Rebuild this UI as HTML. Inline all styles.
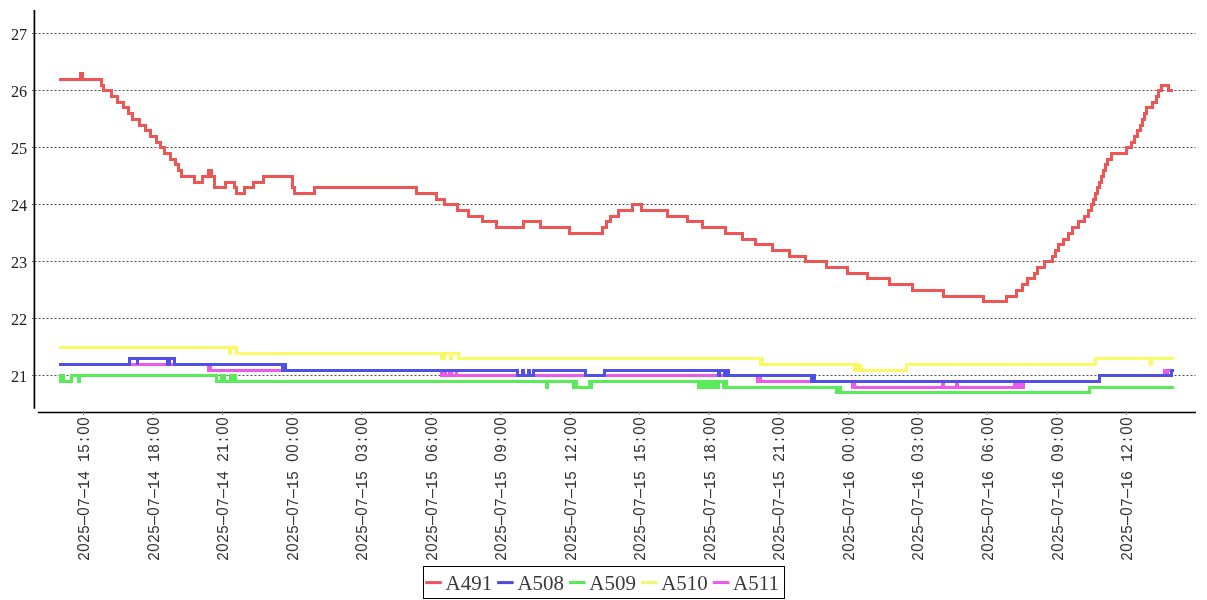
<!DOCTYPE html><html><head><meta charset="utf-8"><style>html,body{margin:0;padding:0;background:#fff;width:1207px;height:600px;overflow:hidden}svg{display:block;will-change:transform}</style></head><body>
<svg width="1207" height="600" viewBox="0 0 1207 600">
<line x1="34.5" y1="375.5" x2="1195.5" y2="375.5" stroke="#555" stroke-width="1" stroke-dasharray="2 2"/>
<line x1="32" y1="375.5" x2="34" y2="375.5" stroke="#777" stroke-width="1"/>
<text x="27.2" y="381.7" text-anchor="end" font-family="Liberation Serif" font-size="16" textLength="16.3" lengthAdjust="spacingAndGlyphs" fill="#222">21</text>
<line x1="34.5" y1="318.5" x2="1195.5" y2="318.5" stroke="#555" stroke-width="1" stroke-dasharray="2 2"/>
<line x1="32" y1="318.5" x2="34" y2="318.5" stroke="#777" stroke-width="1"/>
<text x="27.2" y="324.7" text-anchor="end" font-family="Liberation Serif" font-size="16" textLength="16.3" lengthAdjust="spacingAndGlyphs" fill="#222">22</text>
<line x1="34.5" y1="261.5" x2="1195.5" y2="261.5" stroke="#555" stroke-width="1" stroke-dasharray="2 2"/>
<line x1="32" y1="261.5" x2="34" y2="261.5" stroke="#777" stroke-width="1"/>
<text x="27.2" y="267.7" text-anchor="end" font-family="Liberation Serif" font-size="16" textLength="16.3" lengthAdjust="spacingAndGlyphs" fill="#222">23</text>
<line x1="34.5" y1="204.5" x2="1195.5" y2="204.5" stroke="#555" stroke-width="1" stroke-dasharray="2 2"/>
<line x1="32" y1="204.5" x2="34" y2="204.5" stroke="#777" stroke-width="1"/>
<text x="27.2" y="210.7" text-anchor="end" font-family="Liberation Serif" font-size="16" textLength="16.3" lengthAdjust="spacingAndGlyphs" fill="#222">24</text>
<line x1="34.5" y1="147.5" x2="1195.5" y2="147.5" stroke="#555" stroke-width="1" stroke-dasharray="2 2"/>
<line x1="32" y1="147.5" x2="34" y2="147.5" stroke="#777" stroke-width="1"/>
<text x="27.2" y="153.7" text-anchor="end" font-family="Liberation Serif" font-size="16" textLength="16.3" lengthAdjust="spacingAndGlyphs" fill="#222">25</text>
<line x1="34.5" y1="90.5" x2="1195.5" y2="90.5" stroke="#555" stroke-width="1" stroke-dasharray="2 2"/>
<line x1="32" y1="90.5" x2="34" y2="90.5" stroke="#777" stroke-width="1"/>
<text x="27.2" y="96.7" text-anchor="end" font-family="Liberation Serif" font-size="16" textLength="16.3" lengthAdjust="spacingAndGlyphs" fill="#222">26</text>
<line x1="34.5" y1="33.5" x2="1195.5" y2="33.5" stroke="#555" stroke-width="1" stroke-dasharray="2 2"/>
<line x1="32" y1="33.5" x2="34" y2="33.5" stroke="#777" stroke-width="1"/>
<text x="27.2" y="39.7" text-anchor="end" font-family="Liberation Serif" font-size="16" textLength="16.3" lengthAdjust="spacingAndGlyphs" fill="#222">27</text>
<line x1="34.4" y1="10" x2="34.4" y2="408.7" stroke="#000" stroke-width="1.7"/>
<line x1="37.8" y1="412.5" x2="1196" y2="412.5" stroke="#000" stroke-width="1.7"/>
<line x1="83.5" y1="411" x2="83.5" y2="415" stroke="#888" stroke-width="1"/>
<g transform="translate(89.1,417) rotate(-90) scale(1,1.04)" font-size="15" fill="#333" text-anchor="middle"><text x="-139.50" font-family="Liberation Mono">2</text><text x="-130.50" font-family="Liberation Sans">0</text><text x="-121.50" font-family="Liberation Mono">2</text><text x="-112.50" font-family="Liberation Mono">5</text><text x="-103.50" font-family="Liberation Mono">&#8212;</text><text x="-94.50" font-family="Liberation Sans">0</text><text x="-85.50" font-family="Liberation Mono">7</text><text x="-76.50" font-family="Liberation Mono">&#8212;</text><text x="-67.50" font-family="Liberation Mono">1</text><text x="-58.50" font-family="Liberation Mono">4</text><text x="-40.50" font-family="Liberation Mono">1</text><text x="-31.50" font-family="Liberation Mono">5</text><text x="-22.50" font-family="Liberation Mono">:</text><text x="-13.50" font-family="Liberation Sans">0</text><text x="-4.50" font-family="Liberation Sans">0</text></g>
<line x1="153.03" y1="411" x2="153.03" y2="415" stroke="#888" stroke-width="1"/>
<g transform="translate(158.63,417) rotate(-90) scale(1,1.04)" font-size="15" fill="#333" text-anchor="middle"><text x="-139.50" font-family="Liberation Mono">2</text><text x="-130.50" font-family="Liberation Sans">0</text><text x="-121.50" font-family="Liberation Mono">2</text><text x="-112.50" font-family="Liberation Mono">5</text><text x="-103.50" font-family="Liberation Mono">&#8212;</text><text x="-94.50" font-family="Liberation Sans">0</text><text x="-85.50" font-family="Liberation Mono">7</text><text x="-76.50" font-family="Liberation Mono">&#8212;</text><text x="-67.50" font-family="Liberation Mono">1</text><text x="-58.50" font-family="Liberation Mono">4</text><text x="-40.50" font-family="Liberation Mono">1</text><text x="-31.50" font-family="Liberation Mono">8</text><text x="-22.50" font-family="Liberation Mono">:</text><text x="-13.50" font-family="Liberation Sans">0</text><text x="-4.50" font-family="Liberation Sans">0</text></g>
<line x1="222.56" y1="411" x2="222.56" y2="415" stroke="#888" stroke-width="1"/>
<g transform="translate(228.16,417) rotate(-90) scale(1,1.04)" font-size="15" fill="#333" text-anchor="middle"><text x="-139.50" font-family="Liberation Mono">2</text><text x="-130.50" font-family="Liberation Sans">0</text><text x="-121.50" font-family="Liberation Mono">2</text><text x="-112.50" font-family="Liberation Mono">5</text><text x="-103.50" font-family="Liberation Mono">&#8212;</text><text x="-94.50" font-family="Liberation Sans">0</text><text x="-85.50" font-family="Liberation Mono">7</text><text x="-76.50" font-family="Liberation Mono">&#8212;</text><text x="-67.50" font-family="Liberation Mono">1</text><text x="-58.50" font-family="Liberation Mono">4</text><text x="-40.50" font-family="Liberation Mono">2</text><text x="-31.50" font-family="Liberation Mono">1</text><text x="-22.50" font-family="Liberation Mono">:</text><text x="-13.50" font-family="Liberation Sans">0</text><text x="-4.50" font-family="Liberation Sans">0</text></g>
<line x1="292.09000000000003" y1="411" x2="292.09000000000003" y2="415" stroke="#888" stroke-width="1"/>
<g transform="translate(297.69000000000005,417) rotate(-90) scale(1,1.04)" font-size="15" fill="#333" text-anchor="middle"><text x="-139.50" font-family="Liberation Mono">2</text><text x="-130.50" font-family="Liberation Sans">0</text><text x="-121.50" font-family="Liberation Mono">2</text><text x="-112.50" font-family="Liberation Mono">5</text><text x="-103.50" font-family="Liberation Mono">&#8212;</text><text x="-94.50" font-family="Liberation Sans">0</text><text x="-85.50" font-family="Liberation Mono">7</text><text x="-76.50" font-family="Liberation Mono">&#8212;</text><text x="-67.50" font-family="Liberation Mono">1</text><text x="-58.50" font-family="Liberation Mono">5</text><text x="-40.50" font-family="Liberation Sans">0</text><text x="-31.50" font-family="Liberation Sans">0</text><text x="-22.50" font-family="Liberation Mono">:</text><text x="-13.50" font-family="Liberation Sans">0</text><text x="-4.50" font-family="Liberation Sans">0</text></g>
<line x1="361.62" y1="411" x2="361.62" y2="415" stroke="#888" stroke-width="1"/>
<g transform="translate(367.22,417) rotate(-90) scale(1,1.04)" font-size="15" fill="#333" text-anchor="middle"><text x="-139.50" font-family="Liberation Mono">2</text><text x="-130.50" font-family="Liberation Sans">0</text><text x="-121.50" font-family="Liberation Mono">2</text><text x="-112.50" font-family="Liberation Mono">5</text><text x="-103.50" font-family="Liberation Mono">&#8212;</text><text x="-94.50" font-family="Liberation Sans">0</text><text x="-85.50" font-family="Liberation Mono">7</text><text x="-76.50" font-family="Liberation Mono">&#8212;</text><text x="-67.50" font-family="Liberation Mono">1</text><text x="-58.50" font-family="Liberation Mono">5</text><text x="-40.50" font-family="Liberation Sans">0</text><text x="-31.50" font-family="Liberation Mono">3</text><text x="-22.50" font-family="Liberation Mono">:</text><text x="-13.50" font-family="Liberation Sans">0</text><text x="-4.50" font-family="Liberation Sans">0</text></g>
<line x1="431.15" y1="411" x2="431.15" y2="415" stroke="#888" stroke-width="1"/>
<g transform="translate(436.75,417) rotate(-90) scale(1,1.04)" font-size="15" fill="#333" text-anchor="middle"><text x="-139.50" font-family="Liberation Mono">2</text><text x="-130.50" font-family="Liberation Sans">0</text><text x="-121.50" font-family="Liberation Mono">2</text><text x="-112.50" font-family="Liberation Mono">5</text><text x="-103.50" font-family="Liberation Mono">&#8212;</text><text x="-94.50" font-family="Liberation Sans">0</text><text x="-85.50" font-family="Liberation Mono">7</text><text x="-76.50" font-family="Liberation Mono">&#8212;</text><text x="-67.50" font-family="Liberation Mono">1</text><text x="-58.50" font-family="Liberation Mono">5</text><text x="-40.50" font-family="Liberation Sans">0</text><text x="-31.50" font-family="Liberation Mono">6</text><text x="-22.50" font-family="Liberation Mono">:</text><text x="-13.50" font-family="Liberation Sans">0</text><text x="-4.50" font-family="Liberation Sans">0</text></g>
<line x1="500.68" y1="411" x2="500.68" y2="415" stroke="#888" stroke-width="1"/>
<g transform="translate(506.28000000000003,417) rotate(-90) scale(1,1.04)" font-size="15" fill="#333" text-anchor="middle"><text x="-139.50" font-family="Liberation Mono">2</text><text x="-130.50" font-family="Liberation Sans">0</text><text x="-121.50" font-family="Liberation Mono">2</text><text x="-112.50" font-family="Liberation Mono">5</text><text x="-103.50" font-family="Liberation Mono">&#8212;</text><text x="-94.50" font-family="Liberation Sans">0</text><text x="-85.50" font-family="Liberation Mono">7</text><text x="-76.50" font-family="Liberation Mono">&#8212;</text><text x="-67.50" font-family="Liberation Mono">1</text><text x="-58.50" font-family="Liberation Mono">5</text><text x="-40.50" font-family="Liberation Sans">0</text><text x="-31.50" font-family="Liberation Mono">9</text><text x="-22.50" font-family="Liberation Mono">:</text><text x="-13.50" font-family="Liberation Sans">0</text><text x="-4.50" font-family="Liberation Sans">0</text></g>
<line x1="570.21" y1="411" x2="570.21" y2="415" stroke="#888" stroke-width="1"/>
<g transform="translate(575.8100000000001,417) rotate(-90) scale(1,1.04)" font-size="15" fill="#333" text-anchor="middle"><text x="-139.50" font-family="Liberation Mono">2</text><text x="-130.50" font-family="Liberation Sans">0</text><text x="-121.50" font-family="Liberation Mono">2</text><text x="-112.50" font-family="Liberation Mono">5</text><text x="-103.50" font-family="Liberation Mono">&#8212;</text><text x="-94.50" font-family="Liberation Sans">0</text><text x="-85.50" font-family="Liberation Mono">7</text><text x="-76.50" font-family="Liberation Mono">&#8212;</text><text x="-67.50" font-family="Liberation Mono">1</text><text x="-58.50" font-family="Liberation Mono">5</text><text x="-40.50" font-family="Liberation Mono">1</text><text x="-31.50" font-family="Liberation Mono">2</text><text x="-22.50" font-family="Liberation Mono">:</text><text x="-13.50" font-family="Liberation Sans">0</text><text x="-4.50" font-family="Liberation Sans">0</text></g>
<line x1="639.74" y1="411" x2="639.74" y2="415" stroke="#888" stroke-width="1"/>
<g transform="translate(645.34,417) rotate(-90) scale(1,1.04)" font-size="15" fill="#333" text-anchor="middle"><text x="-139.50" font-family="Liberation Mono">2</text><text x="-130.50" font-family="Liberation Sans">0</text><text x="-121.50" font-family="Liberation Mono">2</text><text x="-112.50" font-family="Liberation Mono">5</text><text x="-103.50" font-family="Liberation Mono">&#8212;</text><text x="-94.50" font-family="Liberation Sans">0</text><text x="-85.50" font-family="Liberation Mono">7</text><text x="-76.50" font-family="Liberation Mono">&#8212;</text><text x="-67.50" font-family="Liberation Mono">1</text><text x="-58.50" font-family="Liberation Mono">5</text><text x="-40.50" font-family="Liberation Mono">1</text><text x="-31.50" font-family="Liberation Mono">5</text><text x="-22.50" font-family="Liberation Mono">:</text><text x="-13.50" font-family="Liberation Sans">0</text><text x="-4.50" font-family="Liberation Sans">0</text></g>
<line x1="709.27" y1="411" x2="709.27" y2="415" stroke="#888" stroke-width="1"/>
<g transform="translate(714.87,417) rotate(-90) scale(1,1.04)" font-size="15" fill="#333" text-anchor="middle"><text x="-139.50" font-family="Liberation Mono">2</text><text x="-130.50" font-family="Liberation Sans">0</text><text x="-121.50" font-family="Liberation Mono">2</text><text x="-112.50" font-family="Liberation Mono">5</text><text x="-103.50" font-family="Liberation Mono">&#8212;</text><text x="-94.50" font-family="Liberation Sans">0</text><text x="-85.50" font-family="Liberation Mono">7</text><text x="-76.50" font-family="Liberation Mono">&#8212;</text><text x="-67.50" font-family="Liberation Mono">1</text><text x="-58.50" font-family="Liberation Mono">5</text><text x="-40.50" font-family="Liberation Mono">1</text><text x="-31.50" font-family="Liberation Mono">8</text><text x="-22.50" font-family="Liberation Mono">:</text><text x="-13.50" font-family="Liberation Sans">0</text><text x="-4.50" font-family="Liberation Sans">0</text></g>
<line x1="778.8" y1="411" x2="778.8" y2="415" stroke="#888" stroke-width="1"/>
<g transform="translate(784.4,417) rotate(-90) scale(1,1.04)" font-size="15" fill="#333" text-anchor="middle"><text x="-139.50" font-family="Liberation Mono">2</text><text x="-130.50" font-family="Liberation Sans">0</text><text x="-121.50" font-family="Liberation Mono">2</text><text x="-112.50" font-family="Liberation Mono">5</text><text x="-103.50" font-family="Liberation Mono">&#8212;</text><text x="-94.50" font-family="Liberation Sans">0</text><text x="-85.50" font-family="Liberation Mono">7</text><text x="-76.50" font-family="Liberation Mono">&#8212;</text><text x="-67.50" font-family="Liberation Mono">1</text><text x="-58.50" font-family="Liberation Mono">5</text><text x="-40.50" font-family="Liberation Mono">2</text><text x="-31.50" font-family="Liberation Mono">1</text><text x="-22.50" font-family="Liberation Mono">:</text><text x="-13.50" font-family="Liberation Sans">0</text><text x="-4.50" font-family="Liberation Sans">0</text></g>
<line x1="848.3299999999999" y1="411" x2="848.3299999999999" y2="415" stroke="#888" stroke-width="1"/>
<g transform="translate(853.93,417) rotate(-90) scale(1,1.04)" font-size="15" fill="#333" text-anchor="middle"><text x="-139.50" font-family="Liberation Mono">2</text><text x="-130.50" font-family="Liberation Sans">0</text><text x="-121.50" font-family="Liberation Mono">2</text><text x="-112.50" font-family="Liberation Mono">5</text><text x="-103.50" font-family="Liberation Mono">&#8212;</text><text x="-94.50" font-family="Liberation Sans">0</text><text x="-85.50" font-family="Liberation Mono">7</text><text x="-76.50" font-family="Liberation Mono">&#8212;</text><text x="-67.50" font-family="Liberation Mono">1</text><text x="-58.50" font-family="Liberation Mono">6</text><text x="-40.50" font-family="Liberation Sans">0</text><text x="-31.50" font-family="Liberation Sans">0</text><text x="-22.50" font-family="Liberation Mono">:</text><text x="-13.50" font-family="Liberation Sans">0</text><text x="-4.50" font-family="Liberation Sans">0</text></g>
<line x1="917.86" y1="411" x2="917.86" y2="415" stroke="#888" stroke-width="1"/>
<g transform="translate(923.46,417) rotate(-90) scale(1,1.04)" font-size="15" fill="#333" text-anchor="middle"><text x="-139.50" font-family="Liberation Mono">2</text><text x="-130.50" font-family="Liberation Sans">0</text><text x="-121.50" font-family="Liberation Mono">2</text><text x="-112.50" font-family="Liberation Mono">5</text><text x="-103.50" font-family="Liberation Mono">&#8212;</text><text x="-94.50" font-family="Liberation Sans">0</text><text x="-85.50" font-family="Liberation Mono">7</text><text x="-76.50" font-family="Liberation Mono">&#8212;</text><text x="-67.50" font-family="Liberation Mono">1</text><text x="-58.50" font-family="Liberation Mono">6</text><text x="-40.50" font-family="Liberation Sans">0</text><text x="-31.50" font-family="Liberation Mono">3</text><text x="-22.50" font-family="Liberation Mono">:</text><text x="-13.50" font-family="Liberation Sans">0</text><text x="-4.50" font-family="Liberation Sans">0</text></g>
<line x1="987.39" y1="411" x2="987.39" y2="415" stroke="#888" stroke-width="1"/>
<g transform="translate(992.99,417) rotate(-90) scale(1,1.04)" font-size="15" fill="#333" text-anchor="middle"><text x="-139.50" font-family="Liberation Mono">2</text><text x="-130.50" font-family="Liberation Sans">0</text><text x="-121.50" font-family="Liberation Mono">2</text><text x="-112.50" font-family="Liberation Mono">5</text><text x="-103.50" font-family="Liberation Mono">&#8212;</text><text x="-94.50" font-family="Liberation Sans">0</text><text x="-85.50" font-family="Liberation Mono">7</text><text x="-76.50" font-family="Liberation Mono">&#8212;</text><text x="-67.50" font-family="Liberation Mono">1</text><text x="-58.50" font-family="Liberation Mono">6</text><text x="-40.50" font-family="Liberation Sans">0</text><text x="-31.50" font-family="Liberation Mono">6</text><text x="-22.50" font-family="Liberation Mono">:</text><text x="-13.50" font-family="Liberation Sans">0</text><text x="-4.50" font-family="Liberation Sans">0</text></g>
<line x1="1056.92" y1="411" x2="1056.92" y2="415" stroke="#888" stroke-width="1"/>
<g transform="translate(1062.52,417) rotate(-90) scale(1,1.04)" font-size="15" fill="#333" text-anchor="middle"><text x="-139.50" font-family="Liberation Mono">2</text><text x="-130.50" font-family="Liberation Sans">0</text><text x="-121.50" font-family="Liberation Mono">2</text><text x="-112.50" font-family="Liberation Mono">5</text><text x="-103.50" font-family="Liberation Mono">&#8212;</text><text x="-94.50" font-family="Liberation Sans">0</text><text x="-85.50" font-family="Liberation Mono">7</text><text x="-76.50" font-family="Liberation Mono">&#8212;</text><text x="-67.50" font-family="Liberation Mono">1</text><text x="-58.50" font-family="Liberation Mono">6</text><text x="-40.50" font-family="Liberation Sans">0</text><text x="-31.50" font-family="Liberation Mono">9</text><text x="-22.50" font-family="Liberation Mono">:</text><text x="-13.50" font-family="Liberation Sans">0</text><text x="-4.50" font-family="Liberation Sans">0</text></g>
<line x1="1126.45" y1="411" x2="1126.45" y2="415" stroke="#888" stroke-width="1"/>
<g transform="translate(1132.05,417) rotate(-90) scale(1,1.04)" font-size="15" fill="#333" text-anchor="middle"><text x="-139.50" font-family="Liberation Mono">2</text><text x="-130.50" font-family="Liberation Sans">0</text><text x="-121.50" font-family="Liberation Mono">2</text><text x="-112.50" font-family="Liberation Mono">5</text><text x="-103.50" font-family="Liberation Mono">&#8212;</text><text x="-94.50" font-family="Liberation Sans">0</text><text x="-85.50" font-family="Liberation Mono">7</text><text x="-76.50" font-family="Liberation Mono">&#8212;</text><text x="-67.50" font-family="Liberation Mono">1</text><text x="-58.50" font-family="Liberation Mono">6</text><text x="-40.50" font-family="Liberation Mono">1</text><text x="-31.50" font-family="Liberation Mono">2</text><text x="-22.50" font-family="Liberation Mono">:</text><text x="-13.50" font-family="Liberation Sans">0</text><text x="-4.50" font-family="Liberation Sans">0</text></g>
<path d="M59.0 364.50H208.5V370.50H209.5V364.50H210.5V370.50H441.5V375.50H444.5V370.50H445.5V375.50H449.5V370.50H451.5V375.50H456.5V370.50H456.5V375.50H757.5V381.50H758.5V375.50H760.5V381.50H852.5V387.50H853.5V381.50H854.5V387.50H942.5V381.50H943.5V387.50H956.5V381.50H957.5V387.50H1014.5V381.50H1016.5V387.50H1018.5V381.50H1020.5V387.50H1023.5V381.50H1099.5V375.50H1164.5V370.50H1166.5V375.50H1167.5V370.50H1174" fill="none" stroke="#eb5aeb" stroke-width="3" stroke-linejoin="miter" stroke-miterlimit="10"/>
<path d="M59.0 347.50H229.5V353.50H230.5V347.50H236.5V353.50H441.5V358.50H444.5V353.50H450.5V358.50H451.5V353.50H458.5V358.50H760.5V364.50H761.5V358.50H762.5V364.50H854.5V370.50H856.5V364.50H858.5V370.50H861.5V364.50H861.5V370.50H906.5V364.50H1095.5V358.50H1150.5V364.50H1151.5V358.50H1174" fill="none" stroke="#fafa64" stroke-width="3" stroke-linejoin="miter" stroke-miterlimit="10"/>
<path d="M59.0 375.50H60.5V381.50H62.5V375.50H63.5V381.50H71.5V375.50H78.5V381.50H79.5V375.50H216.5V381.50H221.5V375.50H224.5V381.50H230.5V375.50H232.5V381.50H234.5V375.50H235.5V381.50H546.5V387.50H547.5V381.50H573.5V387.50H575.5V381.50H576.5V387.50H589.5V381.50H590.5V387.50H591.5V381.50H698.5V387.50H701.5V381.50H702.5V387.50H704.5V381.50H705.5V387.50H708.5V381.50H709.5V387.50H711.5V381.50H712.5V387.50H715.5V381.50H716.5V387.50H718.5V381.50H723.5V387.50H725.5V381.50H726.5V387.50H836.5V392.50H838.5V387.50H840.5V392.50H1089.5V387.50H1174" fill="none" stroke="#5aeb5a" stroke-width="3" stroke-linejoin="miter" stroke-miterlimit="10"/>
<path d="M59.0 364.50H129.5V358.50H137.5V364.50H137.5V358.50H167.5V364.50H169.5V358.50H174.5V364.50H282.5V370.50H283.5V364.50H285.5V370.50H517.5V375.50H522.5V370.50H523.5V375.50H528.5V370.50H529.5V375.50H533.5V370.50H585.5V375.50H604.5V370.50H718.5V375.50H719.5V370.50H724.5V375.50H725.5V370.50H728.5V375.50H811.5V381.50H812.5V375.50H814.5V381.50H1099.5V375.50H1171.5V370.50H1174" fill="none" stroke="#5050e6" stroke-width="3" stroke-linejoin="miter" stroke-miterlimit="10"/>
<path d="M59.0 79.50H80.5V73.50H82.5V79.50H101.5V85.50H103.5V90.50H111.5V96.50H117.5V102.50H123.5V107.50H128.5V113.50H132.5V119.50H139.5V125.50H145.5V130.50H150.5V136.50H156.5V142.50H160.5V147.50H164.5V153.50H170.5V159.50H175.5V164.50H178.5V170.50H181.5V176.50H194.5V182.50H202.5V176.50H208.5V170.50H211.5V176.50H214.5V187.50H225.5V182.50H234.5V187.50H236.5V193.50H244.5V187.50H253.5V182.50H263.5V176.50H292.5V187.50H294.5V193.50H314.5V187.50H416.5V193.50H436.5V199.50H444.5V204.50H457.5V210.50H468.5V216.50H482.5V221.50H496.5V227.50H523.5V221.50H540.5V227.50H569.5V233.50H602.5V227.50H606.5V221.50H610.5V216.50H618.5V210.50H632.5V204.50H641.5V210.50H667.5V216.50H687.5V221.50H702.5V227.50H725.5V233.50H742.5V239.50H755.5V244.50H772.5V250.50H789.5V256.50H805.5V261.50H826.5V267.50H847.5V273.50H867.5V278.50H889.5V284.50H912.5V290.50H943.5V296.50H983.5V301.50H1006.5V296.50H1016.5V290.50H1022.5V284.50H1027.5V278.50H1034.5V273.50H1037.5V267.50H1044.5V261.50H1052.5V256.50H1055.5V250.50H1058.5V244.50H1063.5V239.50H1068.5V233.50H1072.5V227.50H1078.5V221.50H1084.5V216.50H1088.5V210.50H1091.5V204.50H1093.5V199.50H1095.5V193.50H1097.5V187.50H1099.5V182.50H1101.5V176.50H1103.5V170.50H1105.5V164.50H1107.5V159.50H1111.5V153.50H1126.5V147.50H1131.5V142.50H1134.5V136.50H1137.5V130.50H1140.5V125.50H1142.5V119.50H1144.5V113.50H1146.5V107.50H1152.5V102.50H1156.5V96.50H1158.5V90.50H1161.5V85.50H1168.5V90.50H1173" fill="none" stroke="#ee5555" stroke-width="3" stroke-linejoin="miter" stroke-miterlimit="10"/>
<rect x="423.5" y="566.5" width="361" height="32" fill="#fff" stroke="#000" stroke-width="1"/>
<line x1="425.2" y1="582.6" x2="441.8" y2="582.6" stroke="#e8555a" stroke-width="3"/>
<text x="445.5" y="590" font-family="Liberation Serif" font-size="21" fill="#3a3a3a">A491</text>
<line x1="497.1" y1="582.6" x2="513.7" y2="582.6" stroke="#4b4bdc" stroke-width="3"/>
<text x="517.4" y="590" font-family="Liberation Serif" font-size="21" fill="#3a3a3a">A508</text>
<line x1="569.0" y1="582.6" x2="585.6" y2="582.6" stroke="#5ae65a" stroke-width="3"/>
<text x="589.3" y="590" font-family="Liberation Serif" font-size="21" fill="#3a3a3a">A509</text>
<line x1="640.9" y1="582.6" x2="657.5" y2="582.6" stroke="#f5f56e" stroke-width="3"/>
<text x="661.1999999999999" y="590" font-family="Liberation Serif" font-size="21" fill="#3a3a3a">A510</text>
<line x1="712.8" y1="582.6" x2="729.4" y2="582.6" stroke="#e65ae6" stroke-width="3"/>
<text x="733.0999999999999" y="590" font-family="Liberation Serif" font-size="21" fill="#3a3a3a">A511</text>
</svg></body></html>
